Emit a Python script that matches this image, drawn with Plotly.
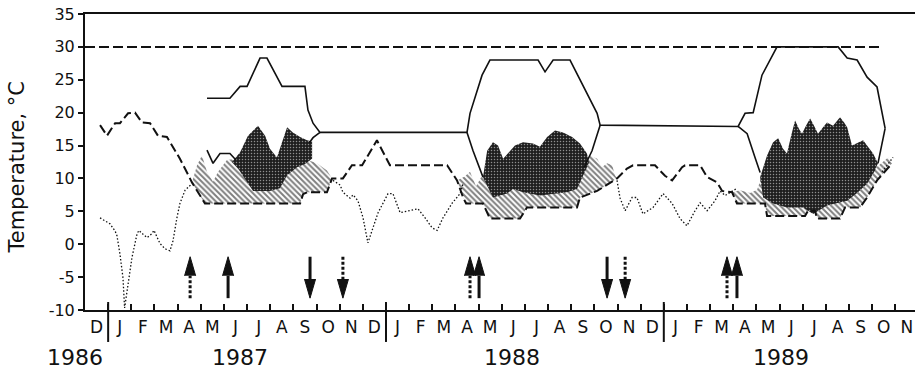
import plotly.graph_objects as go

# x unit: months elapsed since 1 December 1986
X_MAX = 35.85
MONTH_LETTERS = list("D" + "JFMAMJJASOND" * 2 + "JFMAMJJASON")
YEARS = ["1986", "1987", "1988", "1989"]
YEAR_LABEL_T = [-0.43, 6.7, 18.44, 30.07]
YEAR_BREAKS = [1, 13, 25]
Y_TICKS = list(range(-10, 36, 5))

# reference line
LIMIT_TEMP = 30
LIMIT_END_T = 34.34

# solid envelope (upper branch, joined by the winter plateau)
upper_t = [5.27, 6.26, 6.70, 7.00, 7.56, 7.86, 8.51, 9.50, 9.63, 9.85, 10.15,
           16.50, 16.63, 17.15, 17.49, 19.57, 19.87, 20.22, 20.95, 21.81, 22.12, 22.25,
           28.21, 28.51, 28.86, 29.24, 29.89, 32.53, 32.92, 33.35, 33.78, 34.21, 34.56]
upper_v = [22.2, 22.2, 24.0, 24.0, 28.3, 28.3, 24.0, 24.0, 20.4, 18.4, 17.0,
           17.0, 19.9, 25.7, 28.0, 28.0, 26.2, 28.0, 28.0, 22.2, 19.9, 18.1,
           17.9, 19.9, 20.0, 25.7, 30.0, 30.0, 28.3, 28.0, 25.4, 23.9, 17.6]

# solid envelope (lower branch pieces)
lower_t = [5.27, 5.53, 5.83, 6.26, 6.52, None, 9.68, 9.85, 10.15, None,
           16.50, 16.76, 17.19, None, 21.56, 21.90, 22.25, None,
           28.21, 28.60, 28.94, 29.16, None, 34.25, 34.56]
lower_v = [14.3, 12.3, 13.8, 13.8, 12.8, None, 15.4, 16.2, 17.0, None,
           17.0, 14.2, 10.2, None, 11.7, 14.2, 18.1, None,
           17.9, 16.8, 13.2, 10.9, None, 12.3, 17.6]

# long-dashed series
dash_t = [0.65, 0.95, 1.30, 1.51, 1.86, 2.16, 2.46, 2.81, 3.15, 3.54, 4.10, 4.62, 5.18,
          9.29, 9.42, 9.59, 10.45, 10.67, 11.14, 11.53, 11.97, 12.61, 13.17, 15.64,
          16.07, 16.33, 16.46, 17.19, 17.49, 18.79, 19.09, 21.25, 21.38, 22.12, 22.98,
          23.41, 23.67, 24.62, 25.05, 25.36, 25.79, 25.92, 26.57, 26.87, 27.30, 27.52,
          27.95, 28.16, 29.37, 29.46, 31.10, 31.23, 31.53, 31.62, 32.61, 32.83, 33.48,
          33.78, 34.21, 34.86]
dash_v = [18.1, 16.5, 18.4, 18.4, 19.9, 20.0, 18.5, 18.4, 16.5, 16.3, 13.0, 9.4, 6.2,
          6.2, 7.6, 7.9, 7.9, 10.0, 10.0, 12.0, 12.0, 15.8, 12.0, 12.0,
          9.7, 7.1, 6.2, 6.2, 3.9, 3.9, 5.6, 5.6, 7.1, 8.1, 10.0,
          11.5, 12.0, 12.0, 10.4, 9.7, 11.7, 12.0, 12.0, 10.2, 9.4, 8.1,
          7.9, 6.2, 6.2, 4.3, 4.3, 5.1, 5.1, 3.9, 3.9, 5.6, 5.6,
          7.1, 9.7, 12.3]

# dotted series
dot_t = [0.65, 1.08, 1.30, 1.38, 1.51, 1.64, 1.71, 1.81, 2.03, 2.25, 2.33, 2.51, 2.68,
         2.89, 2.98, 3.24, 3.46, 3.67, 3.80, 3.97, 4.10, 4.32, 4.62, None,
         10.71, 11.02, 11.14, 11.32, 11.45, 11.58, 11.79, 12.01, 12.14, 12.22, 12.40,
         12.66, 13.09, 13.30, 13.61, 14.04, 14.38, 14.69, 14.99, 15.21, 15.46, 15.85,
         16.20, 16.33, None,
         22.98, 23.11, 23.33, 23.63, 23.84, 24.10, 24.54, 24.97, 25.36, 25.70, 26.00,
         26.35, 26.57, 26.87, 27.21, 27.43, 27.65, 27.95, 28.16, None,
         34.43, 34.64, 34.90]
dot_v = [4.0, 3.1, 2.0, 1.3, -1.5, -5.1, -9.7, -7.1, -2.0, 1.6, 2.1, 1.5, 1.0,
         1.6, 2.1, 0.1, -0.7, -1.0, 0.5, 4.0, 6.2, 8.2, 9.2, None,
         9.7, 9.0, 7.9, 7.4, 7.0, 7.5, 6.6, 4.0, 1.5, 0.2, 2.1,
         4.8, 7.7, 7.7, 4.8, 5.1, 5.4, 4.0, 2.5, 2.1, 4.0, 6.2,
         7.7, 9.2, None,
         9.7, 7.0, 5.1, 7.1, 7.1, 4.6, 5.6, 7.7, 6.2, 3.9, 2.8,
         5.1, 6.3, 5.1, 6.6, 8.1, 7.4, 8.1, 8.5, None,
         11.0, 12.0, 13.2]

# hatched band: upper edge per season (lower edge follows the long-dashed series)
hatch_top_t = [
    [4.62, 4.84, 5.05, 5.27, 5.53, 5.75, 6.13, 6.57, 6.91, 7.99, 9.29, 9.63, 10.02, 10.45, 10.67],
    [16.07, 16.40, 16.63, 16.89, 17.11, 17.37, 18.5, 20.5, 21.51, 21.73, 21.81, 22.12, 22.33,
     22.55, 22.77, 22.89, 22.98],
    [27.95, 28.29, 28.73, 29.03, 29.20, 31.0, 33.2, 33.48, 33.82, 34.12, 34.43, 34.69, 34.86],
]
hatch_top_v = [
    [9.4, 12.0, 13.5, 11.0, 9.5, 11.0, 12.8, 13.0, 12.5, 12.0, 13.2, 12.8, 12.3, 11.2, 10.0],
    [9.7, 10.3, 11.0, 8.8, 10.2, 11.0, 11.0, 11.0, 11.5, 12.6, 13.5, 13.0, 11.7,
     12.3, 12.0, 10.5, 10.0],
    [7.9, 8.2, 7.8, 8.3, 10.0, 10.0, 10.0, 9.8, 10.6, 11.5, 12.5, 13.2, 12.3],
]

# dark stippled band: upper and lower edges per season
dark_top_t = [
    [6.35, 6.70, 7.04, 7.47, 7.78, 7.99, 8.29, 8.51, 8.73, 8.98, 9.29, 9.59, 9.81],
    [17.19, 17.37, 17.62, 17.84, 18.06, 18.27, 18.57, 18.92, 19.35, 19.65, 19.96, 20.30,
     20.65, 21.04, 21.38, 21.68, 21.77],
    [29.16, 29.46, 29.72, 29.94, 30.15, 30.32, 30.50, 30.67, 30.84, 30.97, 31.14, 31.32,
     31.49, 31.66, 31.88, 32.05, 32.31, 32.48, 32.61, 32.79, 32.92, 33.13, 33.39, 33.61,
     33.82, 34.04, 34.25],
]
dark_top_v = [
    [12.5, 14.0, 16.5, 18.0, 16.5, 14.5, 13.2, 15.5, 17.8, 17.0, 16.3, 15.8, 15.6],
    [10.2, 14.2, 15.5, 15.0, 13.0, 13.8, 15.0, 15.5, 15.3, 14.8, 16.3, 17.3,
     17.0, 16.3, 15.3, 13.8, 12.4],
    [10.2, 13.5, 15.5, 16.1, 14.5, 13.8, 16.5, 18.8, 17.5, 16.8, 18.0, 19.1,
     18.0, 16.8, 17.8, 18.5, 18.0, 18.8, 19.3, 18.5, 17.8, 15.0, 15.5, 15.8,
     14.8, 13.8, 12.3],
]
dark_base_t = [
    [6.35, 6.61, 6.91, 7.26, 7.99, 8.42, 8.73, 9.16, 9.50, 9.81],
    [17.19, 17.62, 18.23, 18.49, 18.92, 19.65, 20.82, 21.25, 21.68, 21.77],
    [29.16, 29.29, 29.72, 30.32, 31.02, 31.45, 32.05, 32.92, 33.35, 33.78, 34.12, 34.25],
]
dark_base_v = [
    [12.5, 11.5, 10.0, 8.1, 8.1, 8.5, 10.5, 11.7, 12.2, 13.0],
    [10.2, 7.1, 7.7, 8.4, 7.9, 7.4, 7.9, 8.4, 11.7, 12.4],
    [10.2, 7.1, 6.2, 5.6, 5.6, 4.6, 5.9, 6.6, 7.8, 9.2, 11.2, 12.3],
]

# migration arrows
arrow_t = [4.54, 6.18, 9.72, 11.14, 16.63, 17.02, 22.55, 23.33, 27.73, 28.16]
arrow_up = [True, True, False, False, True, True, False, False, True, True]
arrow_dashed = [True, False, False, True, True, False, False, True, True, False]
ARROW_TOP, ARROW_BOTTOM = -1.9, -8.2
HEAD_LEN, HEAD_HALF = 2.9, 0.24

FONT = "DejaVu Sans"
INK = "#111111"


def band_polygons(tops_t, tops_v, bases_t, bases_v):
    xs, ys = [], []
    for tt, tv, bt, bv in zip(tops_t, tops_v, bases_t, bases_v):
        xs += list(tt) + list(bt)[::-1] + [None]
        ys += list(tv) + list(bv)[::-1] + [None]
    return xs, ys


# lower edge of the hatched band = long-dashed series between the band ends
hatch_base_t, hatch_base_v = [], []
for tt, tv in zip(hatch_top_t, hatch_top_v):
    lo, hi = tt[0], tt[-1]
    pts = [(t, v) for t, v in zip(dash_t, dash_v) if lo < t < hi]
    hatch_base_t.append([lo] + [p[0] for p in pts] + [hi])
    hatch_base_v.append([tv[0]] + [p[1] for p in pts] + [tv[-1]])

fig = go.Figure()

hx, hy = band_polygons(hatch_top_t, hatch_top_v, hatch_base_t, hatch_base_v)
fig.add_trace(go.Scatter(
    x=hx, y=hy, mode="lines", fill="toself", line=dict(width=0, color="rgba(0,0,0,0)"),
    fillcolor="#ffffff",
    fillpattern=dict(shape="\\", fgcolor="#000000", bgcolor="#ffffff", size=4, solidity=0.5),
    hoverinfo="skip", showlegend=False))

dx, dy = band_polygons(dark_top_t, dark_top_v, dark_base_t, dark_base_v)
fig.add_trace(go.Scatter(
    x=dx, y=dy, mode="lines", fill="toself", line=dict(width=0, color="rgba(0,0,0,0)"),
    fillcolor="#1e1e1e",
    fillpattern=dict(shape=".", fgcolor="#ffffff", bgcolor="#1e1e1e", size=3, solidity=0.2),
    hoverinfo="skip", showlegend=False))

fig.add_trace(go.Scatter(x=dash_t, y=dash_v, mode="lines",
                         line=dict(color=INK, width=2, dash="9px,4px"),
                         showlegend=False))
fig.add_trace(go.Scatter(x=dot_t, y=dot_v, mode="lines",
                         line=dict(color=INK, width=1.3, dash="1.5px,2px"),
                         showlegend=False))
fig.add_trace(go.Scatter(x=upper_t, y=upper_v, mode="lines",
                         line=dict(color=INK, width=1.6), showlegend=False))
fig.add_trace(go.Scatter(x=lower_t, y=lower_v, mode="lines",
                         line=dict(color=INK, width=1.6), showlegend=False))
fig.add_trace(go.Scatter(x=[0, LIMIT_END_T], y=[LIMIT_TEMP, LIMIT_TEMP], mode="lines",
                         line=dict(color=INK, width=2, dash="10px,4px"),
                         showlegend=False))

# arrows: shafts (solid / dashed) and filled heads
shafts = {True: ([], []), False: ([], [])}
head_x, head_y = [], []
for t, up, dashed in zip(arrow_t, arrow_up, arrow_dashed):
    if up:
        tip, s0 = ARROW_TOP, ARROW_BOTTOM
        base = tip - HEAD_LEN
    else:
        tip, s0 = ARROW_BOTTOM, ARROW_TOP
        base = tip + HEAD_LEN
    sx, sy = shafts[dashed]
    sx += [t, t, None]
    sy += [s0, base, None]
    head_x += [t - HEAD_HALF, t, t + HEAD_HALF, None]
    head_y += [base, tip, base, None]

for dashed, (sx, sy) in shafts.items():
    fig.add_trace(go.Scatter(x=sx, y=sy, mode="lines",
                             line=dict(color=INK, width=3, dash="3px,2px" if dashed else "solid"),
                             showlegend=False))
fig.add_trace(go.Scatter(x=head_x, y=head_y, mode="lines", fill="toself",
                         fillcolor=INK, line=dict(color=INK, width=1), showlegend=False))

# year separators below the axis
for b in YEAR_BREAKS:
    fig.add_shape(type="line", xref="paper", yref="paper",
                  x0=b / X_MAX, x1=b / X_MAX, y0=0.027, y1=-0.108,
                  line=dict(color=INK, width=2))

for yr, t in zip(YEARS, YEAR_LABEL_T):
    fig.add_annotation(x=t / X_MAX, y=-0.162, xref="paper", yref="paper", text=yr,
                       showarrow=False, xanchor="center", yanchor="middle",
                       font=dict(family=FONT, size=22, color=INK))

fig.add_annotation(x=-0.0813, y=0.483, xref="paper", yref="paper",
                   text="Temperature, °C", textangle=-90, showarrow=False,
                   xanchor="center", yanchor="middle",
                   font=dict(family=FONT, size=21, color=INK))

fig.update_xaxes(
    range=[0, X_MAX], showgrid=False, zeroline=False,
    showline=True, mirror=True, linecolor=INK, linewidth=2,
    tickmode="array", tickvals=[i + 0.5 for i in range(len(MONTH_LETTERS))],
    ticktext=MONTH_LETTERS, ticks="", ticklabelstandoff=1,
    tickfont=dict(family=FONT, size=17, color=INK),
    minor=dict(tickmode="array", tickvals=list(range(1, 36)), ticks="inside",
               ticklen=6, tickwidth=1.5, tickcolor=INK, showgrid=False),
)
fig.update_yaxes(
    range=[-10, 35], showgrid=False, zeroline=False,
    showline=True, linecolor=INK, linewidth=2,
    tickmode="array", tickvals=Y_TICKS, ticktext=[str(v) for v in Y_TICKS],
    ticks="outside", ticklen=5, tickwidth=1.5, tickcolor=INK,
    tickfont=dict(family=FONT, size=16, color=INK),
)
fig.update_layout(
    width=915, height=371, margin=dict(l=85, r=0, t=14, b=61),
    paper_bgcolor="white", plot_bgcolor="white", showlegend=False,
)

fig.write_html("out.html")
